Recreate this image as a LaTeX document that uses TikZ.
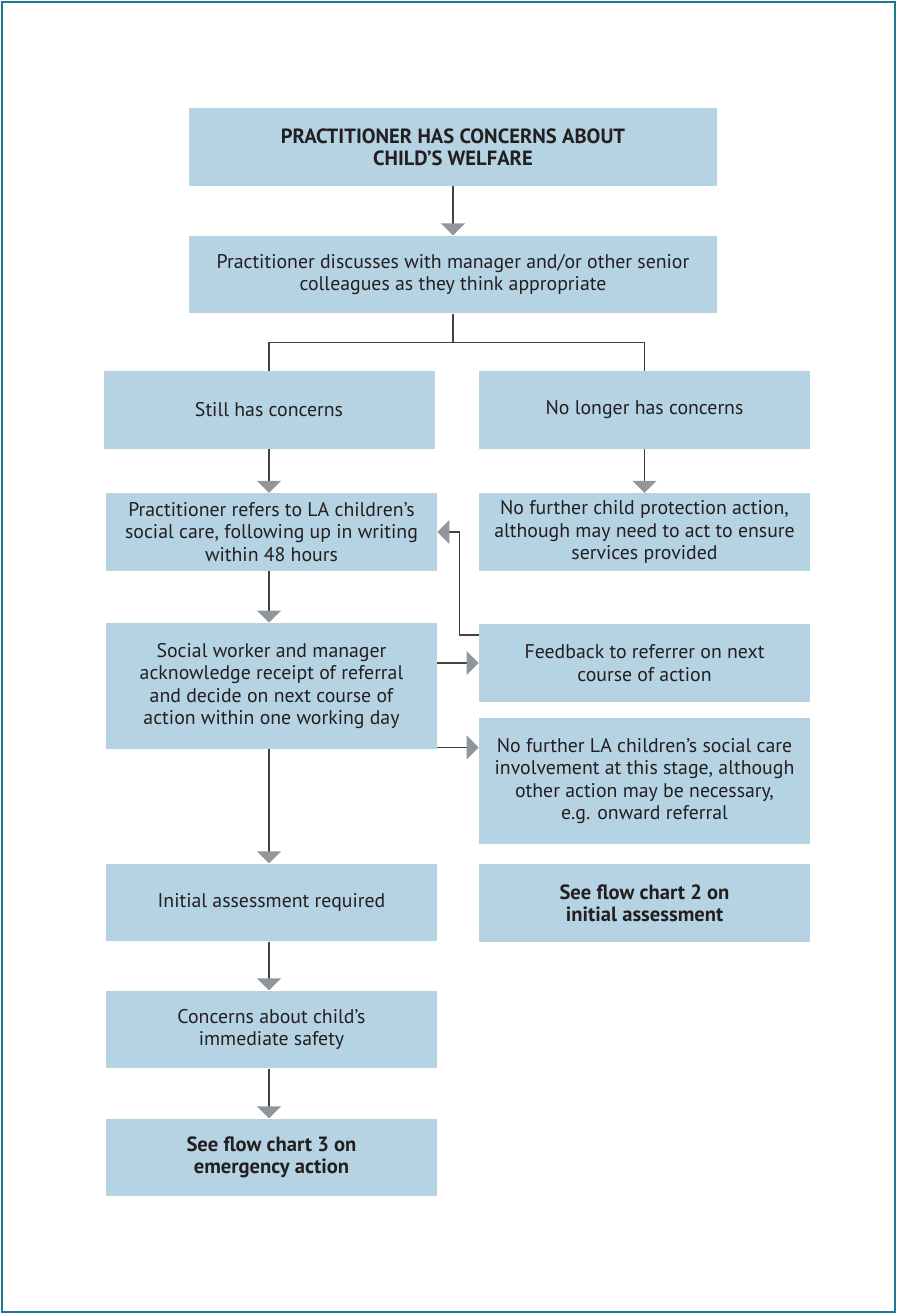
\documentclass[tikz,border=0pt]{standalone}
\usepackage{fontspec}
\setmainfont{PT Sans}
\usetikzlibrary{arrows.meta}
\usetikzlibrary{positioning}
\definecolor{boxblue}{HTML}{B5D3E3}
\definecolor{frameteal}{HTML}{1B7A92}
\definecolor{tipgray}{HTML}{939598}
\definecolor{inkgray}{HTML}{231F20}

\begin{document}
\begin{tikzpicture}[x=0.5pt,y=-0.5pt,line cap=butt,line join=miter,
  box/.style={fill=boxblue,text=inkgray,align=center,inner sep=0pt,
    font=\fontsize{9.9}{11.2}\selectfont,minimum width=165.5pt,minimum height=38.75pt},
  boldbox/.style={box,font=\fontsize{10.3}{11.2}\selectfont\bfseries},
  widebox/.style={box,minimum width=264pt},
  tallbox/.style={box,minimum height=63pt},
  link/.style={draw=inkgray!85,line width=0.7pt},
  arr/.style={link,-{Triangle[width=12pt,length=6pt,color=tipgray]}}]
\useasboundingbox (0,0) rectangle (897,1314);
\draw [frameteal,line width=1.3pt] (2,2) rectangle (895,1312);
% boxes
\node[widebox,boldbox,minimum width=264pt] (concern) at (453,147) {PRACTITIONER HAS CONCERNS ABOUT\\CHILD’S WELFARE};
\node[widebox] (discuss) at (453,274.5) {Practitioner discusses with manager and/or other senior\\colleagues as they think appropriate};
\node[box] (still) at (269,410) {Still has concerns};
\node[box] (nolonger) at (644.5,410) {No longer has concerns};
\node[box] (refers) at (271.5,532) {Practitioner refers to LA children’s\\social care, following up in writing\\within 48 hours};
\node[box] (noaction) at (644.5,532) {No further child protection action,\\although may need to act to ensure\\services provided};
\node[tallbox] (social) at (271.5,686) {Social worker and manager\\acknowledge receipt of referral\\and decide on next course of\\action within one working day};
\node[box] (feedback) at (644.5,663) {Feedback to referrer on next\\course of action};
\node[tallbox] (nola) at (644.5,781) {No further LA children’s social care\\involvement at this stage, although\\other action may be necessary,\\e.g. onward referral};
\node[box] (initial) at (271.5,902.5) {Initial assessment required};
\node[boldbox] (chart2) at (644.5,903) {See flow chart 2 on\\initial assessment};
\node[box] (safety) at (271.5,1029.5) {Concerns about child’s\\immediate safety};
\node[boldbox] (chart3) at (271.5,1157.5) {See flow chart 3 on\\emergency action};
% connectors
\draw [arr] (concern) -- (discuss);
\draw [link] (discuss.south) -- ++(0,29) coordinate (fork);
\draw [link] (fork) -| (still.north);
\draw [link] (fork) -| (nolonger.north);
\draw [arr] (still.south) -- (refers.north -| still);
\draw [arr] (nolonger) -- (noaction);
\draw [arr] (refers.south -| still) -- (social.north -| still);
\draw [arr] (feedback -| social.east) -- (feedback.west);
\draw [arr] ([yshift=1pt]social.south east) -- ([yshift=1pt]social.south east -| nola.west);
\draw [arr] ([yshift=-5.5pt]feedback.north west) -- ++(-19,0) |- (refers.east);
\draw [arr] (social.south -| still) -- (initial.north -| still);
\draw [arr] (initial.south -| still) -- (safety.north -| still);
\draw [arr] (safety.south -| still) -- (chart3.north -| still);
\end{tikzpicture}
\end{document}
